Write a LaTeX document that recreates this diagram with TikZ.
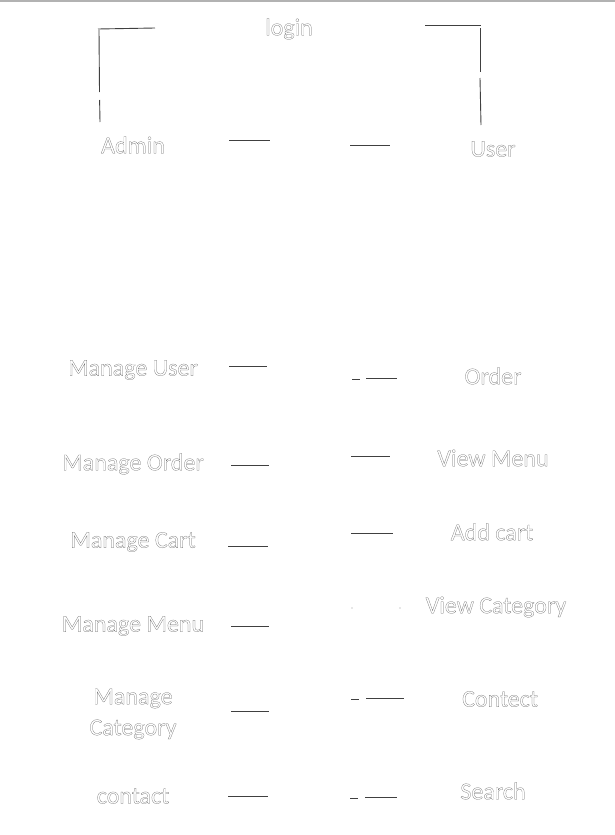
\documentclass[tikz,border=0pt]{standalone}
\usepackage{fontspec}
\setmainfont{Carlito}
\newcommand\outltext[1]{\special{pdf:literal direct 1 Tr 0.22 w}#1\special{pdf:literal direct 0 Tr}}
\tikzset{
  lbl/.style={font=\fontsize{24}{31}\selectfont, text=black!60, inner sep=0pt, align=center},
  seg/.style={draw=black!75, line width=0.9pt},
}
\begin{document}
\begin{tikzpicture}[x=1pt,y=-1pt]
\useasboundingbox (0,0) rectangle (615,835);
\fill[white] (0,0) rectangle (615,835);
\fill[black!30] (0,0) rectangle (615,2);
% labels
\node[lbl] (login) at (289,29) {\outltext{login}};
\node[lbl] (admin) at (133,145) {\outltext{Admin}};
\node[lbl] (user) at (493,149) {\outltext{User}};
\node[lbl] (muser) at (133,370) {\outltext{Manage User}};
\node[lbl] (order) at (493,376) {\outltext{Order}};
\node[lbl] (morder) at (133,464) {\outltext{Manage Order}};
\node[lbl] (vmenu) at (493,458) {\outltext{View Menu}};
\node[lbl] (mcart) at (133,542) {\outltext{Manage Cart}};
\node[lbl] (addcart) at (492,532) {\outltext{Add cart}};
\node[lbl] (mmenu) at (133,626) {\outltext{Manage Menu}};
\node[lbl] (vcat) at (496,607) {\outltext{View Category}};
\node[lbl] (mcat) at (133,714) {\outltext{Manage}\\\outltext{Category}};
\node[lbl] (contect) at (500,699) {\outltext{Contect}};
\node[lbl] (contact) at (133,796) {\outltext{contact}};
\node[lbl] (search) at (493,791) {\outltext{Search}};
% top bracket left
\draw[seg] (98,29) -- (155,28);
\draw[seg] (99,30) -- (99.5,92);
\draw[seg] (99.6,100) -- (100,122);
% top bracket right
\draw[seg] (425,25) -- (481,25);
\draw[seg] (480,28) -- (480,72);
\draw[seg] (480,78) -- (481,125);
% admin / user
\draw[seg] (229,140) -- (270,140);
\draw[seg] (350,145) -- (390,145);
% left column fragments
\draw[seg] (229,366) -- (267,366);
\draw[seg] (231,465) -- (269,465);
\draw[seg] (228,546) -- (268,546);
\draw[seg] (231,626) -- (269,626);
\draw[seg] (231,711) -- (269,711);
\draw[seg] (228,796) -- (268,796);
% right column fragments
\draw[seg] (352,379) -- (360,379);
\draw[seg] (366,378) -- (397,378);
\draw[seg] (351,456) -- (390,456);
\draw[seg] (351,533) -- (393,533);
\fill[black!40] (352,608) circle (0.6);
\fill[black!40] (400,608) circle (0.6);
\draw[seg] (351,699) -- (359,699);
\draw[seg] (366,698) -- (404,698);
\draw[seg] (350,798) -- (358,798);
\draw[seg] (365,797) -- (397,797);
\end{tikzpicture}
\end{document}
